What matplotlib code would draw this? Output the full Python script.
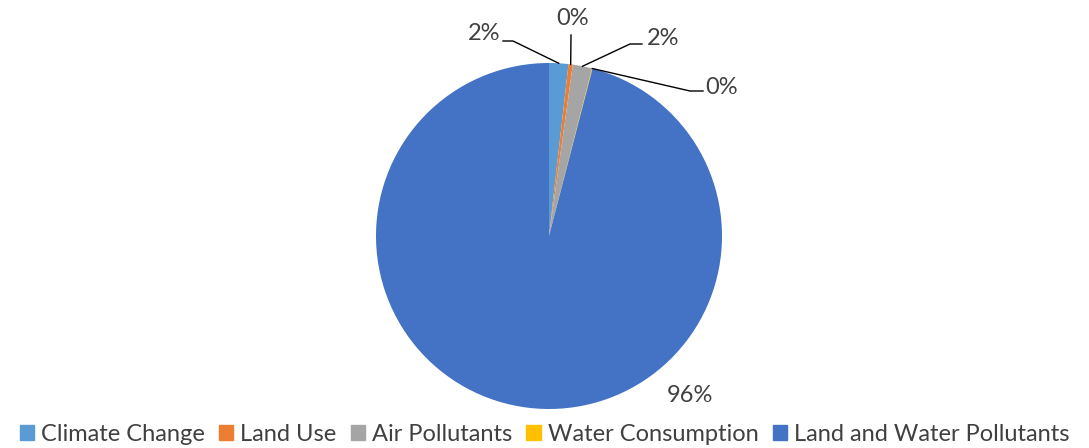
import numpy as np
import matplotlib.pyplot as plt

plt.rcParams['font.family'] = ['Lato', 'DejaVu Sans']

categories = ["Climate Change", "Land Use", "Air Pollutants", "Water Consumption", "Land and Water Pollutants"]
shares = [1.8, 0.4, 1.8, 0.05, 95.95]
colors = ["#5B9BD5", "#ED7D31", "#A5A5A5", "#FFC000", "#4472C4"]

fig = plt.figure(figsize=(10.89, 4.48), dpi=100)
ax = fig.add_axes([0, 0, 1, 1])

cx, cy, r = 549, 212, 173
wedges, _ = ax.pie(shares, colors=colors, startangle=90, counterclock=False,
                   center=(cx, cy), radius=r, frame=True,
                   wedgeprops=dict(linewidth=0))
ax.set_xlim(0, 1089)
ax.set_ylim(0, 448)
ax.axis("off")

# label text spots and leader elbows (None = no leader)
text_pos = [(484, 415), (573, 430), (663, 410), (722, 361), (690, 53)]
elbows = [[(513, 407), (503, 407)],
          [(571, 413)],
          [(630, 404), (642, 404)],
          [(690, 357), (703, 357)],
          None]

for w, v, tp, el in zip(wedges, shares, text_pos, elbows):
    ax.text(tp[0], tp[1], f"{round(v):.0f}%", ha="center", va="center",
            fontsize=17, color="#404040")
    if el is None:
        continue
    mid = np.deg2rad((w.theta1 + w.theta2) / 2)
    x0 = cx + r * np.cos(mid)
    y0 = cy + r * np.sin(mid)
    xs = [x0] + [p[0] for p in el]
    ys = [y0] + [p[1] for p in el]
    ax.plot(xs, ys, color="#000000", lw=1)

handles = [plt.Rectangle((0, 0), 1, 1, color=c) for c in colors]
ax.legend(handles, categories, loc="center", bbox_to_anchor=(0.5, 14 / 448),
          bbox_transform=fig.transFigure, ncol=5, frameon=False,
          fontsize=17, handlelength=0.6, handleheight=0.6, handletextpad=0.3,
          columnspacing=0.6, borderpad=0.1, labelcolor="#404040")

fig.savefig("out.png", dpi=100)
